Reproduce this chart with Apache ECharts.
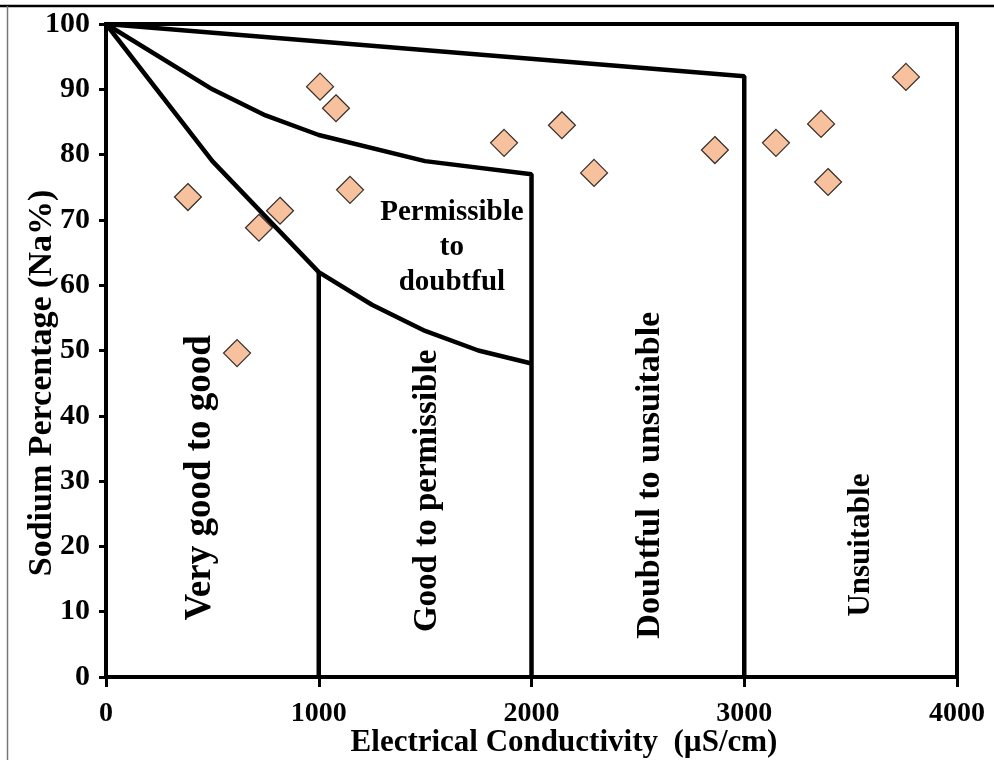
<!DOCTYPE html>
<html>
<head>
<meta charset="utf-8">
<script src="https://cdn.jsdelivr.net/npm/echarts@6/dist/echarts.min.js"></script>
<style>
html,body{margin:0;padding:0;background:#fff;}
#chart{width:994px;height:760px;}
</style>
</head>
<body>
<div id="chart"></div>
<script>
// ---- data ----
var xTicks = [0, 1000, 2000, 3000, 4000];
var yTicks = [0, 10, 20, 30, 40, 50, 60, 70, 80, 90, 100];

// Wilcox boundary lines (EC, Na%)
var lineUnsuitableX = [0, 3000, 3000];
var lineUnsuitableY = [100, 92, 0];
var lineDoubtfulX = [0, 500, 750, 1000, 1500, 2000, 2000];
var lineDoubtfulY = [100, 90, 86, 83, 79, 77, 0];
var lineGoodX = [0, 500, 1000, 1250, 1500, 1750, 2000];
var lineGoodY = [100, 79, 62, 57, 53, 50, 48];
var lineVeryGoodX = [1000, 1000];
var lineVeryGoodY = [62, 0];

// samples
var sampleEC = [385, 616, 719, 818, 1006, 1081, 1147, 1871, 2143, 2294, 2862, 3149, 3361, 3394, 3760];
var sampleNa = [73.5, 49.6, 68.8, 71.4, 90.4, 87.1, 74.6, 81.8, 84.5, 77.2, 80.7, 81.8, 84.7, 75.8, 91.9];

// region labels (data coordinates)
var regionNames = ['Very good to good', 'Good to permissible', 'Permissible\nto\ndoubtful', 'Doubtful to unsuitable', 'Unsuitable'];
var regionX = [442, 1513, 1626, 2557, 3549];
var regionY = [30.5, 28.5, 65.7, 30.9, 20.2];

var xTitle = 'Electrical Conductivity  (\u00b5S/cm)';
var yTitle = 'Sodium Percentage (Na%)';

// ---- build ----
function zip(a, b) { return a.map(function (v, i) { return [v, b[i]]; }); }

var FONT = "'Liberation Serif','Times New Roman',serif";
var regionStyle = [
  { size: 37, rotate: 90 },
  { size: 33, rotate: 90 },
  { size: 29, rotate: 0, lineHeight: 35 },
  { size: 34, rotate: 90 },
  { size: 31, rotate: 90 }
];

var lineStyleCommon = { color: '#000', width: 4.5 };
function boundary(x, y) {
  return {
    type: 'line', data: zip(x, y), showSymbol: false, symbol: 'none',
    lineStyle: lineStyleCommon, silent: true, z: 2, animation: false
  };
}

var chart = echarts.init(document.getElementById('chart'), null, { renderer: 'canvas' });
chart.setOption({
  backgroundColor: '#fff',
  animation: false,
  grid: { left: 106, top: 24, right: 37, bottom: 83, show: true, borderColor: '#000', borderWidth: 4, backgroundColor: 'transparent' },
  xAxis: {
    type: 'value', min: xTicks[0], max: xTicks[xTicks.length - 1], interval: 1000,
    splitLine: { show: false },
    axisLine: { show: true, onZero: false, lineStyle: { color: '#000', width: 4 } },
    axisTick: { show: true, inside: false, length: 10, lineStyle: { color: '#000', width: 3 } },
    axisLabel: { color: '#000', fontFamily: FONT, fontWeight: 'bold', fontSize: 28, margin: 23,
      formatter: function (v) { return String(v); } }
  },
  yAxis: {
    type: 'value', min: yTicks[0], max: yTicks[yTicks.length - 1], interval: 10,
    splitLine: { show: false },
    axisLine: { show: true, onZero: false, lineStyle: { color: '#000', width: 4 } },
    axisTick: { show: true, inside: false, length: 7, lineStyle: { color: '#000', width: 3 } },
    axisLabel: { color: '#000', fontFamily: FONT, fontWeight: 'bold', fontSize: 30, margin: 16,
      formatter: function (v) { return String(v); } }
  },
  graphic: [
    { type: 'line', shape: { x1: 0, y1: 6, x2: 994, y2: 6 }, style: { stroke: '#000', lineWidth: 2.5 }, z: 100 },
    { type: 'line', shape: { x1: 7.5, y1: 6, x2: 7.5, y2: 760 }, style: { stroke: '#777', lineWidth: 1.5 }, z: 100 },
    { type: 'text', x: 564, y: 743, style: { text: xTitle, font: 'bold 31px ' + FONT, fill: '#000', textAlign: 'center', textVerticalAlign: 'middle' }, z: 100 },
    { type: 'text', x: 42, y: 383, rotation: Math.PI / 2, style: { text: yTitle, font: 'bold 34px ' + FONT, fill: '#000', textAlign: 'center', textVerticalAlign: 'middle' }, z: 100 }
  ],
  series: [
    boundary(lineUnsuitableX, lineUnsuitableY),
    boundary(lineDoubtfulX, lineDoubtfulY),
    boundary(lineGoodX, lineGoodY),
    boundary(lineVeryGoodX, lineVeryGoodY),
    {
      type: 'scatter', symbol: 'diamond', symbolSize: 27, z: 5,
      itemStyle: { color: '#F4B183', borderColor: '#000', borderWidth: 1.2 },
      data: zip(sampleEC, sampleNa), silent: true
    },
    {
      type: 'scatter', symbolSize: 0, z: 6, silent: true,
      itemStyle: { color: '#000', opacity: 1 },
      data: regionNames.map(function (n, i) {
        var s = regionStyle[i];
        return {
          name: n, value: [regionX[i], regionY[i]],
          label: {
            show: true, position: 'inside', formatter: '{b}', rotate: s.rotate,
            fontFamily: FONT, fontWeight: 'bold', fontSize: s.size, color: '#000',
            textBorderWidth: 0, textBorderColor: 'transparent', opacity: 1,
            lineHeight: s.lineHeight || s.size * 1.1, align: 'center', verticalAlign: 'middle'
          }
        };
      })
    }
  ]
});
</script>
</body>
</html>
